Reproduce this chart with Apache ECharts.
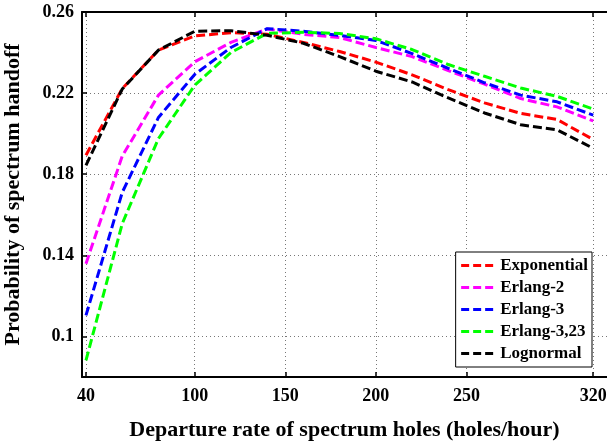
<!DOCTYPE html>
<html>
<head>
<meta charset="utf-8">
<script src="https://cdn.jsdelivr.net/npm/echarts@6/dist/echarts.min.js"></script>
<style>
html,body{margin:0;padding:0;background:#fff;}
#chart{width:607px;height:441px;}
</style>
</head>
<body>
<div id="chart"></div>
<script>
const departureRates = [40, 60, 80, 100, 120, 140, 160, 180, 200, 220, 240, 260, 280, 300, 320];
const exponential = [0.1894, 0.2222, 0.2412, 0.2482, 0.2498, 0.2490, 0.2450, 0.2405, 0.2353, 0.2290, 0.2217, 0.2152, 0.2100, 0.2070, 0.1971];
const erlang2 = [0.1359, 0.1889, 0.2190, 0.2354, 0.2450, 0.2516, 0.2490, 0.2474, 0.2425, 0.2380, 0.2311, 0.2244, 0.2173, 0.2132, 0.2063];
const erlang3 = [0.1104, 0.1710, 0.2080, 0.2292, 0.2425, 0.2518, 0.2505, 0.2484, 0.2460, 0.2395, 0.2322, 0.2251, 0.2190, 0.2157, 0.2091];
const erlang323 = [0.0882, 0.1556, 0.1976, 0.2239, 0.2400, 0.2495, 0.2500, 0.2494, 0.2468, 0.2415, 0.2341, 0.2283, 0.2225, 0.2184, 0.2121];
const lognormal = [0.1844, 0.2220, 0.2412, 0.2505, 0.2508, 0.2485, 0.2446, 0.2380, 0.2308, 0.2255, 0.2176, 0.2102, 0.2044, 0.2019, 0.1928];
const seriesNames = ['Exponential', 'Erlang-2', 'Erlang-3', 'Erlang-3,23', 'Lognormal'];
const seriesColors = ['#ff0000', '#ff00ff', '#0000ff', '#00ff00', '#000000'];
const xTicks = [40, 100, 150, 200, 250, 320];
const yTicks = [0.1, 0.14, 0.18, 0.22, 0.26];

const allSeries = [exponential, erlang2, erlang3, erlang323, lognormal];
const FONT = '"Liberation Serif", "Times New Roman", serif';

const chart = echarts.init(document.getElementById('chart'), null, {renderer: 'canvas'});
const gridLine = {show: true, lineStyle: {color: '#777', type: [1, 3], width: 1}};
const option = {
  backgroundColor: '#ffffff',
  animation: false,
  grid: {left: 82, top: 12, right: 0, bottom: 64, outerBoundsMode: 'none', containLabel: false},
  legend: {
    orient: 'vertical',
    right: 15,
    bottom: 74,
    backgroundColor: '#fff',
    borderColor: '#000',
    borderWidth: 1,
    borderRadius: 0,
    padding: [5, 4, 5, 4],
    itemWidth: 34,
    itemHeight: 14,
    itemGap: 5,
    itemStyle: {color: 'rgba(0,0,0,0)', borderWidth: 0, opacity: 0},
    lineStyle: {width: 3, type: [8, 4]},
    data: seriesNames,
    textStyle: {fontFamily: FONT, fontWeight: 'bold', fontSize: 17, color: '#000'}
  },
  xAxis: [{
    type: 'value',
    min: 37.8,
    max: 327.6,
    axisLine: {show: true, onZero: false, lineStyle: {color: '#000', width: 2}},
    axisTick: {show: true, inside: true, length: 5, customValues: xTicks, lineStyle: {color: '#000', width: 1.5}},
    axisLabel: {customValues: xTicks, margin: 10, fontFamily: FONT, fontWeight: 'bold', fontSize: 18, color: '#000', formatter: v => String(v)},
    splitLine: gridLine,
    name: 'Departure rate of spectrum holes (holes/hour)',
    nameLocation: 'middle',
    nameGap: 42,
    nameTextStyle: {fontFamily: FONT, fontWeight: 'bold', fontSize: 22, color: '#000'}
  }, {
    type: 'value',
    position: 'top',
    min: 37.8,
    max: 327.6,
    axisLine: {show: true, onZero: false, lineStyle: {color: '#000', width: 2}},
    axisTick: {show: true, inside: true, length: 5, customValues: xTicks, lineStyle: {color: '#000', width: 1.5}},
    axisLabel: {show: false},
    splitLine: {show: false}
  }],
  yAxis: [{
    type: 'value',
    min: 0.08,
    max: 0.26,
    axisLine: {show: true, onZero: false, lineStyle: {color: '#000', width: 2}},
    axisTick: {show: true, inside: true, length: 5, customValues: yTicks, lineStyle: {color: '#000', width: 1.5}},
    axisLabel: {customValues: yTicks, margin: 8, fontFamily: FONT, fontWeight: 'bold', fontSize: 18, color: '#000',
      formatter: v => String(Math.round(v * 100) / 100)},
    splitLine: gridLine,
    name: 'Probability of spectrum handoff',
    nameLocation: 'middle',
    nameGap: 58,
    nameTextStyle: {fontFamily: FONT, fontWeight: 'bold', fontSize: 22, color: '#000'}
  }],
  series: seriesNames.map((name, i) => ({
    name: name,
    type: 'line',
    xAxisIndex: 0,
    yAxisIndex: 0,
    showSymbol: false,
    symbol: 'none',
    color: seriesColors[i],
    lineStyle: {color: seriesColors[i], width: 3, type: [9, 4]},
    data: departureRates.map((x, j) => [x, allSeries[i][j]])
  }))
};
chart.setOption(option);
</script>
</body>
</html>
